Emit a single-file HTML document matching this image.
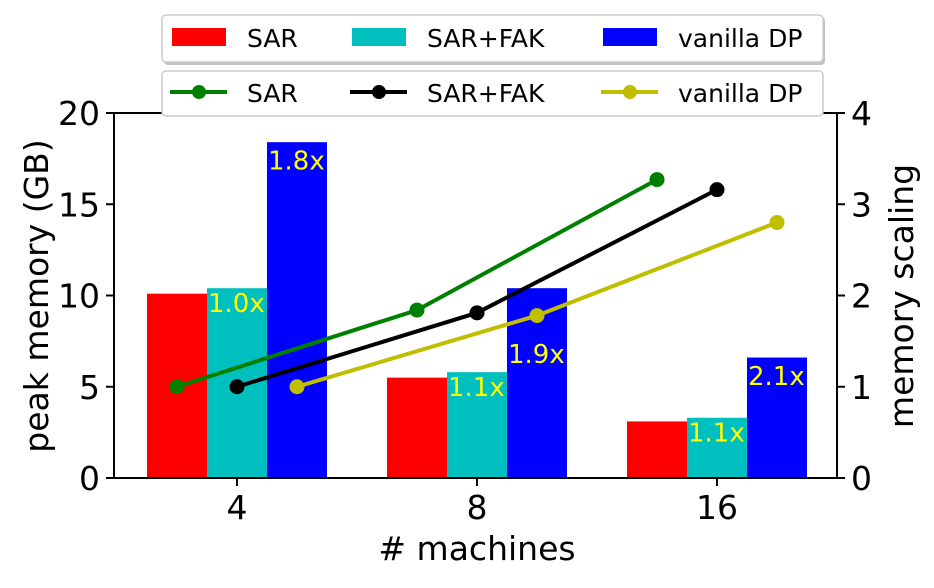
<!DOCTYPE html>
<html><head><meta charset="utf-8"><style>
body{margin:0;background:#fff}
svg{font-family:"DejaVu Sans","Liberation Sans",sans-serif}
</style></head><body>
<svg id="chart" width="934" height="583" viewBox="0 0 934 583" xmlns="http://www.w3.org/2000/svg">
<g id="bars"></g>
<g id="lines"></g>
<g id="axes"></g>
<g id="legends"></g>
</svg>
<script>
const categories=["4","8","16"];
const sarMem=[10.1,5.5,3.1];
const fakMem=[10.4,5.8,3.3];
const dpMem=[18.4,10.4,6.6];
const sarScale=[1.0,1.84,3.27];
const fakScale=[1.0,1.81,3.16];
const dpScale=[1.0,1.78,2.8];
const fakLabels=["1.0x","1.1x","1.1x"];
const dpLabels=["1.8x","1.9x","2.1x"];
const fakLabelY=[9.6,5.0,2.5];
const dpLabelY=[17.4,6.8,5.6];
const leftTicks=[0,5,10,15,20];
const rightTicks=[0,1,2,3,4];

const NS="http://www.w3.org/2000/svg";
const L=114,R=837,T=113,B=478,BW=60;
const yL=v=>B-(B-T)*v/20;
const yR=v=>B-(B-T)*v/4;
const xC=i=>237+240*i;
function mk(parent,tag,attrs,text){const e=document.createElementNS(NS,tag);for(const k in attrs)e.setAttribute(k,attrs[k]);if(text!==undefined)e.textContent=text;document.getElementById(parent).appendChild(e);return e;}

const barSeries=[[sarMem,"#ff0000",-1,"sar"],[fakMem,"#00bfbf",0,"sar-fak"],[dpMem,"#0000ff",1,"vanilla-dp"]];
barSeries.forEach(([vals,col,off,nm])=>{
  vals.forEach((v,i)=>{
    const x=xC(i)+off*BW-BW/2;
    const r=mk("bars","rect",{x:x,y:yL(v),width:BW,height:B-yL(v),fill:col});
    
    
  });
});
categories.forEach((c,i)=>{
  const t1=mk("bars","text",{x:xC(i)-29,y:yL(fakLabelY[i])+9,fill:"#ffff00","font-size":26},fakLabels[i]);
  
  
  const t2=mk("bars","text",{x:xC(i)+31,y:yL(dpLabelY[i])+9,fill:"#ffff00","font-size":26},dpLabels[i]);
  
  
});

const lineSeries=[[sarScale,"#008000",-1,"sar"],[fakScale,"#000000",0,"sar-fak"],[dpScale,"#bfbf00",1,"vanilla-dp"]];
lineSeries.forEach(([vals,col,off,nm])=>{
  const pts=vals.map((v,i)=>(xC(i)+off*BW)+","+yR(v)).join(" ");
  const pl=mk("lines","polyline",{points:pts,fill:"none",stroke:col,"stroke-width":4});
  
  
  vals.forEach((v,i)=>{
    const c=mk("lines","circle",{cx:xC(i)+off*BW,cy:yR(v),r:7.5,fill:col});
    
    
  });
});

const frame=mk("axes","rect",{x:L,y:T,width:R-L,height:B-T,fill:"none",stroke:"#000","stroke-width":2});


leftTicks.forEach(v=>{
  mk("axes","line",{x1:L-8,x2:L,y1:yL(v),y2:yL(v),stroke:"#000","stroke-width":2});
  const t=mk("axes","text",{x:L-14,y:yL(v)+12,"text-anchor":"end","font-size":33},String(v));
  
  
});
rightTicks.forEach(v=>{
  mk("axes","line",{x1:R,x2:R+8,y1:yR(v),y2:yR(v),stroke:"#000","stroke-width":2});
  const t=mk("axes","text",{x:R+14,y:yR(v)+12,"font-size":33},String(v));
  
  
});
categories.forEach((c,i)=>{
  mk("axes","line",{x1:xC(i),x2:xC(i),y1:B,y2:B+8,stroke:"#000","stroke-width":2});
  const t=mk("axes","text",{x:xC(i),y:B+41,"text-anchor":"middle","font-size":33},c);
  
  
});
const xt=mk("axes","text",{x:477,y:560,"text-anchor":"middle","font-size":33},"# machines");


const yt=mk("axes","text",{x:0,y:0,transform:"translate(48,296) rotate(-90)","text-anchor":"middle","font-size":33},"peak memory (GB)");


const yt2=mk("axes","text",{x:0,y:0,transform:"translate(913,296) rotate(-90)","text-anchor":"middle","font-size":33},"memory scaling");



mk("legends","rect",{x:164,y:17,width:661,height:48,rx:4,fill:"#999","opacity":0.6});
const lb1=mk("legends","rect",{x:162,y:15,width:661,height:47,rx:4,fill:"#fff",stroke:"#ccc","stroke-width":1.5});


const lb2=mk("legends","rect",{x:162,y:71,width:661,height:45,rx:4,fill:"#fff",stroke:"#ccc","stroke-width":1.5});


const legX=[172,352,603];
const names=["SAR","SAR+FAK","vanilla DP"];
barSeries.forEach(([v,col],k)=>{
  const r=mk("legends","rect",{x:legX[k],y:28,width:54,height:18,fill:col});
  
  
  const t=mk("legends","text",{x:legX[k]+75,y:47,"font-size":25},names[k]);
  
  
});
lineSeries.forEach(([v,col],k)=>{
  mk("legends","line",{x1:legX[k]-2,x2:legX[k]+55,y1:92,y2:92,stroke:col,"stroke-width":4});
  const c=mk("legends","circle",{cx:legX[k]+27,cy:92,r:7,fill:col});
  
  
  const t=mk("legends","text",{x:legX[k]+75,y:102,"font-size":25},names[k]);
  
  
});
</script>
</body></html>
